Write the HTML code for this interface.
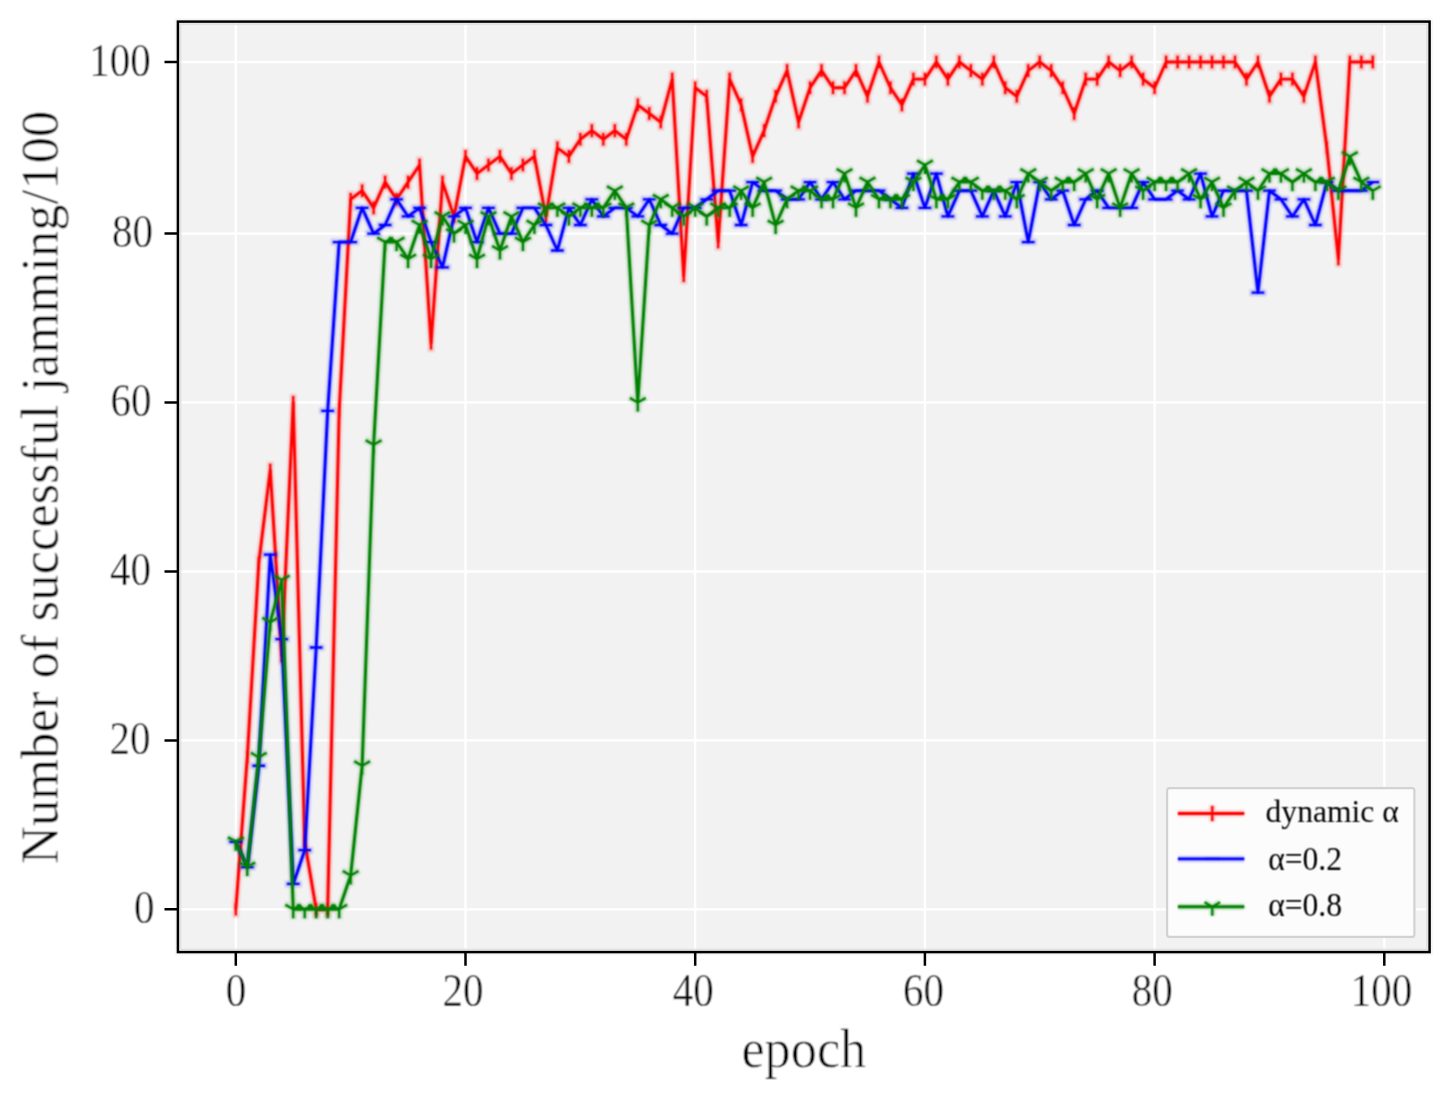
<!DOCTYPE html>
<html><head><meta charset="utf-8"><style>
html,body{margin:0;padding:0;background:#fff;overflow:hidden}
svg{display:block}
text{font-family:"Liberation Serif",serif;font-kerning:none}
</style></head><body>
<svg width="1451" height="1102" viewBox="0 0 1451 1102">
<defs><filter id="bl" filterUnits="userSpaceOnUse" x="0" y="0" width="1451" height="1102"><feGaussianBlur stdDeviation="1.0"/></filter><filter id="bt" filterUnits="userSpaceOnUse" x="0" y="0" width="1451" height="1102"><feConvolveMatrix order="3" kernelMatrix="1 2 1 2 4 2 1 2 1" divisor="16" preserveAlpha="false"/></filter><filter id="tx" filterUnits="userSpaceOnUse" x="0" y="0" width="1451" height="1102"><feConvolveMatrix order="3" kernelMatrix="1 2 1 2 4 2 1 2 1" divisor="16" preserveAlpha="false"/></filter></defs>
<rect width="1451" height="1102" fill="#fff"/>
<rect x="177.9" y="21.6" width="1251.7" height="930.5" fill="#f2f2f2"/>
<path d="M235.8 21.6V952.1M177.9 909.3H1429.6M465.5 21.6V952.1M177.9 740.4H1429.6M695.2 21.6V952.1M177.9 571.5H1429.6M924.9 21.6V952.1M177.9 402.4H1429.6M1154.6 21.6V952.1M177.9 233.6H1429.6M1384.3 21.6V952.1M177.9 62H1429.6" stroke="#fff" stroke-width="2.3" fill="none"/>
<g filter="url(#bl)" opacity="0.2"><path d="M235.8 909.3 L247.29 757.29 L258.77 563.04 L270.25 470.04 L281.74 655.95 L293.23 402.4 L304.71 841.74 L316.19 909.3 L327.68 909.3 L339.17 410.85 L350.65 199.28 L362.13 190.7 L373.62 207.86 L385.11 182.12 L396.59 199.28 L408.07 182.12 L419.56 164.96 L431.05 343.32 L442.53 182.12 L454.01 216.44 L465.5 156.38 L476.99 173.54 L488.47 164.96 L499.95 156.38 L511.44 173.54 L522.92 164.96 L534.41 156.38 L545.89 216.44 L557.38 147.8 L568.87 156.38 L580.35 139.22 L591.84 130.64 L603.32 139.22 L614.81 130.64 L626.29 139.22 L637.77 104.9 L649.26 113.48 L660.75 122.06 L672.23 79.16 L683.71 275.8 L695.2 87.74 L706.68 96.32 L718.17 242.04 L729.65 79.16 L741.14 104.9 L752.62 156.38 L764.11 130.64 L775.6 96.32 L787.08 70.58 L798.57 122.06 L810.05 87.74 L821.54 70.58 L833.02 87.74 L844.5 87.74 L855.99 70.58 L867.47 96.32 L878.96 62 L890.44 87.74 L901.93 104.9 L913.41 79.16 L924.9 79.16 L936.38 62 L947.87 79.16 L959.36 62 L970.84 70.58 L982.33 79.16 L993.81 62 L1005.3 87.74 L1016.78 96.32 L1028.26 70.58 L1039.75 62 L1051.23 70.58 L1062.72 87.74 L1074.2 113.48 L1085.69 79.16 L1097.17 79.16 L1108.66 62 L1120.14 70.58 L1131.63 62 L1143.12 79.16 L1154.6 87.74 L1166.09 62 L1177.57 62 L1189.06 62 L1200.54 62 L1212.02 62 L1223.51 62 L1234.99 62 L1246.48 79.16 L1257.96 62 L1269.45 96.32 L1280.93 79.16 L1292.42 79.16 L1303.9 96.32 L1315.39 62 L1326.88 147.8 L1338.36 258.92 L1349.84 62 L1361.33 62 L1372.81 62M235.8 900.9v16.8M247.29 748.89v16.8M258.77 554.64v16.8M270.25 461.64v16.8M281.74 647.55v16.8M293.23 394v16.8M304.71 833.34v16.8M316.19 900.9v16.8M327.68 900.9v16.8M339.17 402.45v16.8M350.65 190.88v16.8M362.13 182.3v16.8M373.62 199.46v16.8M385.11 173.72v16.8M396.59 190.88v16.8M408.07 173.72v16.8M419.56 156.56v16.8M431.05 334.92v16.8M442.53 173.72v16.8M454.01 208.04v16.8M465.5 147.98v16.8M476.99 165.14v16.8M488.47 156.56v16.8M499.95 147.98v16.8M511.44 165.14v16.8M522.92 156.56v16.8M534.41 147.98v16.8M545.89 208.04v16.8M557.38 139.4v16.8M568.87 147.98v16.8M580.35 130.82v16.8M591.84 122.24v16.8M603.32 130.82v16.8M614.81 122.24v16.8M626.29 130.82v16.8M637.77 96.5v16.8M649.26 105.08v16.8M660.75 113.66v16.8M672.23 70.76v16.8M683.71 267.4v16.8M695.2 79.34v16.8M706.68 87.92v16.8M718.17 233.64v16.8M729.65 70.76v16.8M741.14 96.5v16.8M752.62 147.98v16.8M764.11 122.24v16.8M775.6 87.92v16.8M787.08 62.18v16.8M798.57 113.66v16.8M810.05 79.34v16.8M821.54 62.18v16.8M833.02 79.34v16.8M844.5 79.34v16.8M855.99 62.18v16.8M867.47 87.92v16.8M878.96 53.6v16.8M890.44 79.34v16.8M901.93 96.5v16.8M913.41 70.76v16.8M924.9 70.76v16.8M936.38 53.6v16.8M947.87 70.76v16.8M959.36 53.6v16.8M970.84 62.18v16.8M982.33 70.76v16.8M993.81 53.6v16.8M1005.3 79.34v16.8M1016.78 87.92v16.8M1028.26 62.18v16.8M1039.75 53.6v16.8M1051.23 62.18v16.8M1062.72 79.34v16.8M1074.2 105.08v16.8M1085.69 70.76v16.8M1097.17 70.76v16.8M1108.66 53.6v16.8M1120.14 62.18v16.8M1131.63 53.6v16.8M1143.12 70.76v16.8M1154.6 79.34v16.8M1166.09 53.6v16.8M1177.57 53.6v16.8M1189.06 53.6v16.8M1200.54 53.6v16.8M1212.02 53.6v16.8M1223.51 53.6v16.8M1234.99 53.6v16.8M1246.48 70.76v16.8M1257.96 53.6v16.8M1269.45 87.92v16.8M1280.93 70.76v16.8M1292.42 70.76v16.8M1303.9 87.92v16.8M1315.39 53.6v16.8M1326.88 139.4v16.8M1338.36 250.52v16.8M1349.84 53.6v16.8M1361.33 53.6v16.8M1372.81 53.6v16.8" stroke="#f00" stroke-width="6.5" fill="none" stroke-linejoin="round"/></g>
<g filter="url(#bt)"><path d="M235.8 909.3 L247.29 757.29 L258.77 563.04 L270.25 470.04 L281.74 655.95 L293.23 402.4 L304.71 841.74 L316.19 909.3 L327.68 909.3 L339.17 410.85 L350.65 199.28 L362.13 190.7 L373.62 207.86 L385.11 182.12 L396.59 199.28 L408.07 182.12 L419.56 164.96 L431.05 343.32 L442.53 182.12 L454.01 216.44 L465.5 156.38 L476.99 173.54 L488.47 164.96 L499.95 156.38 L511.44 173.54 L522.92 164.96 L534.41 156.38 L545.89 216.44 L557.38 147.8 L568.87 156.38 L580.35 139.22 L591.84 130.64 L603.32 139.22 L614.81 130.64 L626.29 139.22 L637.77 104.9 L649.26 113.48 L660.75 122.06 L672.23 79.16 L683.71 275.8 L695.2 87.74 L706.68 96.32 L718.17 242.04 L729.65 79.16 L741.14 104.9 L752.62 156.38 L764.11 130.64 L775.6 96.32 L787.08 70.58 L798.57 122.06 L810.05 87.74 L821.54 70.58 L833.02 87.74 L844.5 87.74 L855.99 70.58 L867.47 96.32 L878.96 62 L890.44 87.74 L901.93 104.9 L913.41 79.16 L924.9 79.16 L936.38 62 L947.87 79.16 L959.36 62 L970.84 70.58 L982.33 79.16 L993.81 62 L1005.3 87.74 L1016.78 96.32 L1028.26 70.58 L1039.75 62 L1051.23 70.58 L1062.72 87.74 L1074.2 113.48 L1085.69 79.16 L1097.17 79.16 L1108.66 62 L1120.14 70.58 L1131.63 62 L1143.12 79.16 L1154.6 87.74 L1166.09 62 L1177.57 62 L1189.06 62 L1200.54 62 L1212.02 62 L1223.51 62 L1234.99 62 L1246.48 79.16 L1257.96 62 L1269.45 96.32 L1280.93 79.16 L1292.42 79.16 L1303.9 96.32 L1315.39 62 L1326.88 147.8 L1338.36 258.92 L1349.84 62 L1361.33 62 L1372.81 62" stroke="#f00" stroke-width="2.9" fill="none" stroke-linejoin="round" stroke-linecap="butt"/><path d="M235.8 903v12.6M247.29 750.99v12.6M258.77 556.75v12.6M270.25 463.74v12.6M281.74 649.65v12.6M293.23 396.1v12.6M304.71 835.44v12.6M316.19 903v12.6M327.68 903v12.6M339.17 404.55v12.6M350.65 192.98v12.6M362.13 184.4v12.6M373.62 201.56v12.6M385.11 175.82v12.6M396.59 192.98v12.6M408.07 175.82v12.6M419.56 158.66v12.6M431.05 337.02v12.6M442.53 175.82v12.6M454.01 210.14v12.6M465.5 150.08v12.6M476.99 167.24v12.6M488.47 158.66v12.6M499.95 150.08v12.6M511.44 167.24v12.6M522.92 158.66v12.6M534.41 150.08v12.6M545.89 210.14v12.6M557.38 141.5v12.6M568.87 150.08v12.6M580.35 132.92v12.6M591.84 124.34v12.6M603.32 132.92v12.6M614.81 124.34v12.6M626.29 132.92v12.6M637.77 98.6v12.6M649.26 107.18v12.6M660.75 115.76v12.6M672.23 72.86v12.6M683.71 269.5v12.6M695.2 81.44v12.6M706.68 90.02v12.6M718.17 235.74v12.6M729.65 72.86v12.6M741.14 98.6v12.6M752.62 150.08v12.6M764.11 124.34v12.6M775.6 90.02v12.6M787.08 64.28v12.6M798.57 115.76v12.6M810.05 81.44v12.6M821.54 64.28v12.6M833.02 81.44v12.6M844.5 81.44v12.6M855.99 64.28v12.6M867.47 90.02v12.6M878.96 55.7v12.6M890.44 81.44v12.6M901.93 98.6v12.6M913.41 72.86v12.6M924.9 72.86v12.6M936.38 55.7v12.6M947.87 72.86v12.6M959.36 55.7v12.6M970.84 64.28v12.6M982.33 72.86v12.6M993.81 55.7v12.6M1005.3 81.44v12.6M1016.78 90.02v12.6M1028.26 64.28v12.6M1039.75 55.7v12.6M1051.23 64.28v12.6M1062.72 81.44v12.6M1074.2 107.18v12.6M1085.69 72.86v12.6M1097.17 72.86v12.6M1108.66 55.7v12.6M1120.14 64.28v12.6M1131.63 55.7v12.6M1143.12 72.86v12.6M1154.6 81.44v12.6M1166.09 55.7v12.6M1177.57 55.7v12.6M1189.06 55.7v12.6M1200.54 55.7v12.6M1212.02 55.7v12.6M1223.51 55.7v12.6M1234.99 55.7v12.6M1246.48 72.86v12.6M1257.96 55.7v12.6M1269.45 90.02v12.6M1280.93 72.86v12.6M1292.42 72.86v12.6M1303.9 90.02v12.6M1315.39 55.7v12.6M1326.88 141.5v12.6M1338.36 252.62v12.6M1349.84 55.7v12.6M1361.33 55.7v12.6M1372.81 55.7v12.6" stroke="#f00" stroke-width="2.3" fill="none" stroke-linecap="butt"/></g>
<g filter="url(#bl)" opacity="0.2"><path d="M235.8 841.74 L247.29 867.07 L258.77 765.73 L270.25 554.59 L281.74 639.06 L293.23 883.96 L304.71 850.18 L316.19 647.5 L327.68 410.85 L339.17 242.04 L350.65 242.04 L362.13 207.86 L373.62 233.6 L385.11 225.02 L396.59 199.28 L408.07 216.44 L419.56 207.86 L431.05 242.04 L442.53 267.36 L454.01 216.44 L465.5 207.86 L476.99 242.04 L488.47 207.86 L499.95 233.6 L511.44 233.6 L522.92 207.86 L534.41 207.86 L545.89 225.02 L557.38 250.48 L568.87 207.86 L580.35 225.02 L591.84 199.28 L603.32 216.44 L614.81 207.86 L626.29 207.86 L637.77 216.44 L649.26 199.28 L660.75 225.02 L672.23 233.6 L683.71 207.86 L695.2 207.86 L706.68 199.28 L718.17 190.7 L729.65 190.7 L741.14 225.02 L752.62 182.12 L764.11 190.7 L775.6 190.7 L787.08 199.28 L798.57 199.28 L810.05 182.12 L821.54 199.28 L833.02 182.12 L844.5 199.28 L855.99 190.7 L867.47 190.7 L878.96 190.7 L890.44 199.28 L901.93 207.86 L913.41 173.54 L924.9 207.86 L936.38 173.54 L947.87 216.44 L959.36 190.7 L970.84 190.7 L982.33 216.44 L993.81 190.7 L1005.3 216.44 L1016.78 182.12 L1028.26 242.04 L1039.75 182.12 L1051.23 199.28 L1062.72 190.7 L1074.2 225.02 L1085.69 199.28 L1097.17 190.7 L1108.66 207.86 L1120.14 207.86 L1131.63 207.86 L1143.12 182.12 L1154.6 199.28 L1166.09 199.28 L1177.57 190.7 L1189.06 199.28 L1200.54 173.54 L1212.02 216.44 L1223.51 190.7 L1234.99 190.7 L1246.48 190.7 L1257.96 292.68 L1269.45 190.7 L1280.93 199.28 L1292.42 216.44 L1303.9 199.28 L1315.39 225.02 L1326.88 182.12 L1338.36 190.7 L1349.84 190.7 L1361.33 190.7 L1372.81 182.12M227.4 841.74h16.8M238.89 867.07h16.8M250.37 765.73h16.8M261.86 554.59h16.8M273.34 639.06h16.8M284.83 883.96h16.8M296.31 850.18h16.8M307.8 647.5h16.8M319.28 410.85h16.8M330.77 242.04h16.8M342.25 242.04h16.8M353.74 207.86h16.8M365.22 233.6h16.8M376.71 225.02h16.8M388.19 199.28h16.8M399.68 216.44h16.8M411.16 207.86h16.8M422.65 242.04h16.8M434.13 267.36h16.8M445.62 216.44h16.8M457.1 207.86h16.8M468.59 242.04h16.8M480.07 207.86h16.8M491.56 233.6h16.8M503.04 233.6h16.8M514.52 207.86h16.8M526.01 207.86h16.8M537.5 225.02h16.8M548.98 250.48h16.8M560.47 207.86h16.8M571.95 225.02h16.8M583.44 199.28h16.8M594.92 216.44h16.8M606.41 207.86h16.8M617.89 207.86h16.8M629.38 216.44h16.8M640.86 199.28h16.8M652.35 225.02h16.8M663.83 233.6h16.8M675.31 207.86h16.8M686.8 207.86h16.8M698.28 199.28h16.8M709.77 190.7h16.8M721.25 190.7h16.8M732.74 225.02h16.8M744.23 182.12h16.8M755.71 190.7h16.8M767.2 190.7h16.8M778.68 199.28h16.8M790.17 199.28h16.8M801.65 182.12h16.8M813.14 199.28h16.8M824.62 182.12h16.8M836.1 199.28h16.8M847.59 190.7h16.8M859.07 190.7h16.8M870.56 190.7h16.8M882.04 199.28h16.8M893.53 207.86h16.8M905.01 173.54h16.8M916.5 207.86h16.8M927.99 173.54h16.8M939.47 216.44h16.8M950.96 190.7h16.8M962.44 190.7h16.8M973.93 216.44h16.8M985.41 190.7h16.8M996.9 216.44h16.8M1008.38 182.12h16.8M1019.86 242.04h16.8M1031.35 182.12h16.8M1042.83 199.28h16.8M1054.32 190.7h16.8M1065.8 225.02h16.8M1077.29 199.28h16.8M1088.77 190.7h16.8M1100.26 207.86h16.8M1111.74 207.86h16.8M1123.23 207.86h16.8M1134.71 182.12h16.8M1146.2 199.28h16.8M1157.68 199.28h16.8M1169.17 190.7h16.8M1180.65 199.28h16.8M1192.14 173.54h16.8M1203.62 216.44h16.8M1215.11 190.7h16.8M1226.59 190.7h16.8M1238.08 190.7h16.8M1249.56 292.68h16.8M1261.05 190.7h16.8M1272.53 199.28h16.8M1284.02 216.44h16.8M1295.5 199.28h16.8M1306.99 225.02h16.8M1318.47 182.12h16.8M1329.96 190.7h16.8M1341.44 190.7h16.8M1352.93 190.7h16.8M1364.41 182.12h16.8" stroke="#00f" stroke-width="6.5" fill="none" stroke-linejoin="round"/></g>
<g filter="url(#bt)"><path d="M235.8 841.74 L247.29 867.07 L258.77 765.73 L270.25 554.59 L281.74 639.06 L293.23 883.96 L304.71 850.18 L316.19 647.5 L327.68 410.85 L339.17 242.04 L350.65 242.04 L362.13 207.86 L373.62 233.6 L385.11 225.02 L396.59 199.28 L408.07 216.44 L419.56 207.86 L431.05 242.04 L442.53 267.36 L454.01 216.44 L465.5 207.86 L476.99 242.04 L488.47 207.86 L499.95 233.6 L511.44 233.6 L522.92 207.86 L534.41 207.86 L545.89 225.02 L557.38 250.48 L568.87 207.86 L580.35 225.02 L591.84 199.28 L603.32 216.44 L614.81 207.86 L626.29 207.86 L637.77 216.44 L649.26 199.28 L660.75 225.02 L672.23 233.6 L683.71 207.86 L695.2 207.86 L706.68 199.28 L718.17 190.7 L729.65 190.7 L741.14 225.02 L752.62 182.12 L764.11 190.7 L775.6 190.7 L787.08 199.28 L798.57 199.28 L810.05 182.12 L821.54 199.28 L833.02 182.12 L844.5 199.28 L855.99 190.7 L867.47 190.7 L878.96 190.7 L890.44 199.28 L901.93 207.86 L913.41 173.54 L924.9 207.86 L936.38 173.54 L947.87 216.44 L959.36 190.7 L970.84 190.7 L982.33 216.44 L993.81 190.7 L1005.3 216.44 L1016.78 182.12 L1028.26 242.04 L1039.75 182.12 L1051.23 199.28 L1062.72 190.7 L1074.2 225.02 L1085.69 199.28 L1097.17 190.7 L1108.66 207.86 L1120.14 207.86 L1131.63 207.86 L1143.12 182.12 L1154.6 199.28 L1166.09 199.28 L1177.57 190.7 L1189.06 199.28 L1200.54 173.54 L1212.02 216.44 L1223.51 190.7 L1234.99 190.7 L1246.48 190.7 L1257.96 292.68 L1269.45 190.7 L1280.93 199.28 L1292.42 216.44 L1303.9 199.28 L1315.39 225.02 L1326.88 182.12 L1338.36 190.7 L1349.84 190.7 L1361.33 190.7 L1372.81 182.12" stroke="#00f" stroke-width="2.9" fill="none" stroke-linejoin="round" stroke-linecap="butt"/><path d="M229.5 841.74h12.6M240.99 867.07h12.6M252.47 765.73h12.6M263.95 554.59h12.6M275.44 639.06h12.6M286.93 883.96h12.6M298.41 850.18h12.6M309.89 647.5h12.6M321.38 410.85h12.6M332.87 242.04h12.6M344.35 242.04h12.6M355.83 207.86h12.6M367.32 233.6h12.6M378.81 225.02h12.6M390.29 199.28h12.6M401.77 216.44h12.6M413.26 207.86h12.6M424.75 242.04h12.6M436.23 267.36h12.6M447.71 216.44h12.6M459.2 207.86h12.6M470.69 242.04h12.6M482.17 207.86h12.6M493.65 233.6h12.6M505.14 233.6h12.6M516.62 207.86h12.6M528.11 207.86h12.6M539.6 225.02h12.6M551.08 250.48h12.6M562.57 207.86h12.6M574.05 225.02h12.6M585.54 199.28h12.6M597.02 216.44h12.6M608.51 207.86h12.6M619.99 207.86h12.6M631.48 216.44h12.6M642.96 199.28h12.6M654.45 225.02h12.6M665.93 233.6h12.6M677.41 207.86h12.6M688.9 207.86h12.6M700.38 199.28h12.6M711.87 190.7h12.6M723.36 190.7h12.6M734.84 225.02h12.6M746.33 182.12h12.6M757.81 190.7h12.6M769.3 190.7h12.6M780.78 199.28h12.6M792.27 199.28h12.6M803.75 182.12h12.6M815.24 199.28h12.6M826.72 182.12h12.6M838.2 199.28h12.6M849.69 190.7h12.6M861.17 190.7h12.6M872.66 190.7h12.6M884.14 199.28h12.6M895.63 207.86h12.6M907.12 173.54h12.6M918.6 207.86h12.6M930.09 173.54h12.6M941.57 216.44h12.6M953.06 190.7h12.6M964.54 190.7h12.6M976.03 216.44h12.6M987.51 190.7h12.6M999 216.44h12.6M1010.48 182.12h12.6M1021.96 242.04h12.6M1033.45 182.12h12.6M1044.93 199.28h12.6M1056.42 190.7h12.6M1067.9 225.02h12.6M1079.39 199.28h12.6M1090.88 190.7h12.6M1102.36 207.86h12.6M1113.85 207.86h12.6M1125.33 207.86h12.6M1136.82 182.12h12.6M1148.3 199.28h12.6M1159.79 199.28h12.6M1171.27 190.7h12.6M1182.76 199.28h12.6M1194.24 173.54h12.6M1205.72 216.44h12.6M1217.21 190.7h12.6M1228.69 190.7h12.6M1240.18 190.7h12.6M1251.66 292.68h12.6M1263.15 190.7h12.6M1274.63 199.28h12.6M1286.12 216.44h12.6M1297.61 199.28h12.6M1309.09 225.02h12.6M1320.58 182.12h12.6M1332.06 190.7h12.6M1343.54 190.7h12.6M1355.03 190.7h12.6M1366.51 182.12h12.6" stroke="#00f" stroke-width="2.3" fill="none" stroke-linecap="butt"/></g>
<g filter="url(#bl)" opacity="0.2"><path d="M235.8 841.74 L247.29 867.07 L258.77 757.29 L270.25 622.17 L281.74 579.94 L293.23 909.3 L304.71 909.3 L316.19 909.3 L327.68 909.3 L339.17 909.3 L350.65 875.52 L362.13 765.73 L373.62 444.67 L385.11 242.04 L396.59 242.04 L408.07 258.92 L419.56 225.02 L431.05 258.92 L442.53 216.44 L454.01 233.6 L465.5 225.02 L476.99 258.92 L488.47 216.44 L499.95 250.48 L511.44 216.44 L522.92 242.04 L534.41 225.02 L545.89 207.86 L557.38 207.86 L568.87 216.44 L580.35 207.86 L591.84 207.86 L603.32 207.86 L614.81 190.7 L626.29 207.86 L637.77 402.4 L649.26 225.02 L660.75 199.28 L672.23 207.86 L683.71 216.44 L695.2 207.86 L706.68 216.44 L718.17 207.86 L729.65 207.86 L741.14 190.7 L752.62 207.86 L764.11 182.12 L775.6 225.02 L787.08 199.28 L798.57 190.7 L810.05 190.7 L821.54 199.28 L833.02 199.28 L844.5 173.54 L855.99 207.86 L867.47 182.12 L878.96 199.28 L890.44 199.28 L901.93 199.28 L913.41 182.12 L924.9 164.96 L936.38 199.28 L947.87 199.28 L959.36 182.12 L970.84 182.12 L982.33 190.7 L993.81 190.7 L1005.3 190.7 L1016.78 199.28 L1028.26 173.54 L1039.75 182.12 L1051.23 190.7 L1062.72 182.12 L1074.2 182.12 L1085.69 173.54 L1097.17 199.28 L1108.66 173.54 L1120.14 207.86 L1131.63 173.54 L1143.12 190.7 L1154.6 182.12 L1166.09 182.12 L1177.57 182.12 L1189.06 173.54 L1200.54 199.28 L1212.02 182.12 L1223.51 207.86 L1234.99 190.7 L1246.48 182.12 L1257.96 190.7 L1269.45 173.54 L1280.93 173.54 L1292.42 182.12 L1303.9 173.54 L1315.39 182.12 L1326.88 182.12 L1338.36 190.7 L1349.84 156.38 L1361.33 182.12 L1372.81 190.7M235.8 841.74v10M235.8 841.74l-8.66 -5M235.8 841.74l8.66 -5M247.29 867.07v10M247.29 867.07l-8.66 -5M247.29 867.07l8.66 -5M258.77 757.29v10M258.77 757.29l-8.66 -5M258.77 757.29l8.66 -5M270.25 622.17v10M270.25 622.17l-8.66 -5M270.25 622.17l8.66 -5M281.74 579.94v10M281.74 579.94l-8.66 -5M281.74 579.94l8.66 -5M293.23 909.3v10M293.23 909.3l-8.66 -5M293.23 909.3l8.66 -5M304.71 909.3v10M304.71 909.3l-8.66 -5M304.71 909.3l8.66 -5M316.19 909.3v10M316.19 909.3l-8.66 -5M316.19 909.3l8.66 -5M327.68 909.3v10M327.68 909.3l-8.66 -5M327.68 909.3l8.66 -5M339.17 909.3v10M339.17 909.3l-8.66 -5M339.17 909.3l8.66 -5M350.65 875.52v10M350.65 875.52l-8.66 -5M350.65 875.52l8.66 -5M362.13 765.73v10M362.13 765.73l-8.66 -5M362.13 765.73l8.66 -5M373.62 444.67v10M373.62 444.67l-8.66 -5M373.62 444.67l8.66 -5M385.11 242.04v10M385.11 242.04l-8.66 -5M385.11 242.04l8.66 -5M396.59 242.04v10M396.59 242.04l-8.66 -5M396.59 242.04l8.66 -5M408.07 258.92v10M408.07 258.92l-8.66 -5M408.07 258.92l8.66 -5M419.56 225.02v10M419.56 225.02l-8.66 -5M419.56 225.02l8.66 -5M431.05 258.92v10M431.05 258.92l-8.66 -5M431.05 258.92l8.66 -5M442.53 216.44v10M442.53 216.44l-8.66 -5M442.53 216.44l8.66 -5M454.01 233.6v10M454.01 233.6l-8.66 -5M454.01 233.6l8.66 -5M465.5 225.02v10M465.5 225.02l-8.66 -5M465.5 225.02l8.66 -5M476.99 258.92v10M476.99 258.92l-8.66 -5M476.99 258.92l8.66 -5M488.47 216.44v10M488.47 216.44l-8.66 -5M488.47 216.44l8.66 -5M499.95 250.48v10M499.95 250.48l-8.66 -5M499.95 250.48l8.66 -5M511.44 216.44v10M511.44 216.44l-8.66 -5M511.44 216.44l8.66 -5M522.92 242.04v10M522.92 242.04l-8.66 -5M522.92 242.04l8.66 -5M534.41 225.02v10M534.41 225.02l-8.66 -5M534.41 225.02l8.66 -5M545.89 207.86v10M545.89 207.86l-8.66 -5M545.89 207.86l8.66 -5M557.38 207.86v10M557.38 207.86l-8.66 -5M557.38 207.86l8.66 -5M568.87 216.44v10M568.87 216.44l-8.66 -5M568.87 216.44l8.66 -5M580.35 207.86v10M580.35 207.86l-8.66 -5M580.35 207.86l8.66 -5M591.84 207.86v10M591.84 207.86l-8.66 -5M591.84 207.86l8.66 -5M603.32 207.86v10M603.32 207.86l-8.66 -5M603.32 207.86l8.66 -5M614.81 190.7v10M614.81 190.7l-8.66 -5M614.81 190.7l8.66 -5M626.29 207.86v10M626.29 207.86l-8.66 -5M626.29 207.86l8.66 -5M637.77 402.4v10M637.77 402.4l-8.66 -5M637.77 402.4l8.66 -5M649.26 225.02v10M649.26 225.02l-8.66 -5M649.26 225.02l8.66 -5M660.75 199.28v10M660.75 199.28l-8.66 -5M660.75 199.28l8.66 -5M672.23 207.86v10M672.23 207.86l-8.66 -5M672.23 207.86l8.66 -5M683.71 216.44v10M683.71 216.44l-8.66 -5M683.71 216.44l8.66 -5M695.2 207.86v10M695.2 207.86l-8.66 -5M695.2 207.86l8.66 -5M706.68 216.44v10M706.68 216.44l-8.66 -5M706.68 216.44l8.66 -5M718.17 207.86v10M718.17 207.86l-8.66 -5M718.17 207.86l8.66 -5M729.65 207.86v10M729.65 207.86l-8.66 -5M729.65 207.86l8.66 -5M741.14 190.7v10M741.14 190.7l-8.66 -5M741.14 190.7l8.66 -5M752.62 207.86v10M752.62 207.86l-8.66 -5M752.62 207.86l8.66 -5M764.11 182.12v10M764.11 182.12l-8.66 -5M764.11 182.12l8.66 -5M775.6 225.02v10M775.6 225.02l-8.66 -5M775.6 225.02l8.66 -5M787.08 199.28v10M787.08 199.28l-8.66 -5M787.08 199.28l8.66 -5M798.57 190.7v10M798.57 190.7l-8.66 -5M798.57 190.7l8.66 -5M810.05 190.7v10M810.05 190.7l-8.66 -5M810.05 190.7l8.66 -5M821.54 199.28v10M821.54 199.28l-8.66 -5M821.54 199.28l8.66 -5M833.02 199.28v10M833.02 199.28l-8.66 -5M833.02 199.28l8.66 -5M844.5 173.54v10M844.5 173.54l-8.66 -5M844.5 173.54l8.66 -5M855.99 207.86v10M855.99 207.86l-8.66 -5M855.99 207.86l8.66 -5M867.47 182.12v10M867.47 182.12l-8.66 -5M867.47 182.12l8.66 -5M878.96 199.28v10M878.96 199.28l-8.66 -5M878.96 199.28l8.66 -5M890.44 199.28v10M890.44 199.28l-8.66 -5M890.44 199.28l8.66 -5M901.93 199.28v10M901.93 199.28l-8.66 -5M901.93 199.28l8.66 -5M913.41 182.12v10M913.41 182.12l-8.66 -5M913.41 182.12l8.66 -5M924.9 164.96v10M924.9 164.96l-8.66 -5M924.9 164.96l8.66 -5M936.38 199.28v10M936.38 199.28l-8.66 -5M936.38 199.28l8.66 -5M947.87 199.28v10M947.87 199.28l-8.66 -5M947.87 199.28l8.66 -5M959.36 182.12v10M959.36 182.12l-8.66 -5M959.36 182.12l8.66 -5M970.84 182.12v10M970.84 182.12l-8.66 -5M970.84 182.12l8.66 -5M982.33 190.7v10M982.33 190.7l-8.66 -5M982.33 190.7l8.66 -5M993.81 190.7v10M993.81 190.7l-8.66 -5M993.81 190.7l8.66 -5M1005.3 190.7v10M1005.3 190.7l-8.66 -5M1005.3 190.7l8.66 -5M1016.78 199.28v10M1016.78 199.28l-8.66 -5M1016.78 199.28l8.66 -5M1028.26 173.54v10M1028.26 173.54l-8.66 -5M1028.26 173.54l8.66 -5M1039.75 182.12v10M1039.75 182.12l-8.66 -5M1039.75 182.12l8.66 -5M1051.23 190.7v10M1051.23 190.7l-8.66 -5M1051.23 190.7l8.66 -5M1062.72 182.12v10M1062.72 182.12l-8.66 -5M1062.72 182.12l8.66 -5M1074.2 182.12v10M1074.2 182.12l-8.66 -5M1074.2 182.12l8.66 -5M1085.69 173.54v10M1085.69 173.54l-8.66 -5M1085.69 173.54l8.66 -5M1097.17 199.28v10M1097.17 199.28l-8.66 -5M1097.17 199.28l8.66 -5M1108.66 173.54v10M1108.66 173.54l-8.66 -5M1108.66 173.54l8.66 -5M1120.14 207.86v10M1120.14 207.86l-8.66 -5M1120.14 207.86l8.66 -5M1131.63 173.54v10M1131.63 173.54l-8.66 -5M1131.63 173.54l8.66 -5M1143.12 190.7v10M1143.12 190.7l-8.66 -5M1143.12 190.7l8.66 -5M1154.6 182.12v10M1154.6 182.12l-8.66 -5M1154.6 182.12l8.66 -5M1166.09 182.12v10M1166.09 182.12l-8.66 -5M1166.09 182.12l8.66 -5M1177.57 182.12v10M1177.57 182.12l-8.66 -5M1177.57 182.12l8.66 -5M1189.06 173.54v10M1189.06 173.54l-8.66 -5M1189.06 173.54l8.66 -5M1200.54 199.28v10M1200.54 199.28l-8.66 -5M1200.54 199.28l8.66 -5M1212.02 182.12v10M1212.02 182.12l-8.66 -5M1212.02 182.12l8.66 -5M1223.51 207.86v10M1223.51 207.86l-8.66 -5M1223.51 207.86l8.66 -5M1234.99 190.7v10M1234.99 190.7l-8.66 -5M1234.99 190.7l8.66 -5M1246.48 182.12v10M1246.48 182.12l-8.66 -5M1246.48 182.12l8.66 -5M1257.96 190.7v10M1257.96 190.7l-8.66 -5M1257.96 190.7l8.66 -5M1269.45 173.54v10M1269.45 173.54l-8.66 -5M1269.45 173.54l8.66 -5M1280.93 173.54v10M1280.93 173.54l-8.66 -5M1280.93 173.54l8.66 -5M1292.42 182.12v10M1292.42 182.12l-8.66 -5M1292.42 182.12l8.66 -5M1303.9 173.54v10M1303.9 173.54l-8.66 -5M1303.9 173.54l8.66 -5M1315.39 182.12v10M1315.39 182.12l-8.66 -5M1315.39 182.12l8.66 -5M1326.88 182.12v10M1326.88 182.12l-8.66 -5M1326.88 182.12l8.66 -5M1338.36 190.7v10M1338.36 190.7l-8.66 -5M1338.36 190.7l8.66 -5M1349.84 156.38v10M1349.84 156.38l-8.66 -5M1349.84 156.38l8.66 -5M1361.33 182.12v10M1361.33 182.12l-8.66 -5M1361.33 182.12l8.66 -5M1372.81 190.7v10M1372.81 190.7l-8.66 -5M1372.81 190.7l8.66 -5" stroke="#008000" stroke-width="6.5" fill="none" stroke-linejoin="round"/></g>
<g filter="url(#bt)"><path d="M235.8 841.74 L247.29 867.07 L258.77 757.29 L270.25 622.17 L281.74 579.94 L293.23 909.3 L304.71 909.3 L316.19 909.3 L327.68 909.3 L339.17 909.3 L350.65 875.52 L362.13 765.73 L373.62 444.67 L385.11 242.04 L396.59 242.04 L408.07 258.92 L419.56 225.02 L431.05 258.92 L442.53 216.44 L454.01 233.6 L465.5 225.02 L476.99 258.92 L488.47 216.44 L499.95 250.48 L511.44 216.44 L522.92 242.04 L534.41 225.02 L545.89 207.86 L557.38 207.86 L568.87 216.44 L580.35 207.86 L591.84 207.86 L603.32 207.86 L614.81 190.7 L626.29 207.86 L637.77 402.4 L649.26 225.02 L660.75 199.28 L672.23 207.86 L683.71 216.44 L695.2 207.86 L706.68 216.44 L718.17 207.86 L729.65 207.86 L741.14 190.7 L752.62 207.86 L764.11 182.12 L775.6 225.02 L787.08 199.28 L798.57 190.7 L810.05 190.7 L821.54 199.28 L833.02 199.28 L844.5 173.54 L855.99 207.86 L867.47 182.12 L878.96 199.28 L890.44 199.28 L901.93 199.28 L913.41 182.12 L924.9 164.96 L936.38 199.28 L947.87 199.28 L959.36 182.12 L970.84 182.12 L982.33 190.7 L993.81 190.7 L1005.3 190.7 L1016.78 199.28 L1028.26 173.54 L1039.75 182.12 L1051.23 190.7 L1062.72 182.12 L1074.2 182.12 L1085.69 173.54 L1097.17 199.28 L1108.66 173.54 L1120.14 207.86 L1131.63 173.54 L1143.12 190.7 L1154.6 182.12 L1166.09 182.12 L1177.57 182.12 L1189.06 173.54 L1200.54 199.28 L1212.02 182.12 L1223.51 207.86 L1234.99 190.7 L1246.48 182.12 L1257.96 190.7 L1269.45 173.54 L1280.93 173.54 L1292.42 182.12 L1303.9 173.54 L1315.39 182.12 L1326.88 182.12 L1338.36 190.7 L1349.84 156.38 L1361.33 182.12 L1372.81 190.7" stroke="#008000" stroke-width="2.9" fill="none" stroke-linejoin="round" stroke-linecap="butt"/><path d="M235.8 841.74v9M235.8 841.74l-7.79 -4.5M235.8 841.74l7.79 -4.5M247.29 867.07v9M247.29 867.07l-7.79 -4.5M247.29 867.07l7.79 -4.5M258.77 757.29v9M258.77 757.29l-7.79 -4.5M258.77 757.29l7.79 -4.5M270.25 622.17v9M270.25 622.17l-7.79 -4.5M270.25 622.17l7.79 -4.5M281.74 579.94v9M281.74 579.94l-7.79 -4.5M281.74 579.94l7.79 -4.5M293.23 909.3v9M293.23 909.3l-7.79 -4.5M293.23 909.3l7.79 -4.5M304.71 909.3v9M304.71 909.3l-7.79 -4.5M304.71 909.3l7.79 -4.5M316.19 909.3v9M316.19 909.3l-7.79 -4.5M316.19 909.3l7.79 -4.5M327.68 909.3v9M327.68 909.3l-7.79 -4.5M327.68 909.3l7.79 -4.5M339.17 909.3v9M339.17 909.3l-7.79 -4.5M339.17 909.3l7.79 -4.5M350.65 875.52v9M350.65 875.52l-7.79 -4.5M350.65 875.52l7.79 -4.5M362.13 765.73v9M362.13 765.73l-7.79 -4.5M362.13 765.73l7.79 -4.5M373.62 444.67v9M373.62 444.67l-7.79 -4.5M373.62 444.67l7.79 -4.5M385.11 242.04v9M385.11 242.04l-7.79 -4.5M385.11 242.04l7.79 -4.5M396.59 242.04v9M396.59 242.04l-7.79 -4.5M396.59 242.04l7.79 -4.5M408.07 258.92v9M408.07 258.92l-7.79 -4.5M408.07 258.92l7.79 -4.5M419.56 225.02v9M419.56 225.02l-7.79 -4.5M419.56 225.02l7.79 -4.5M431.05 258.92v9M431.05 258.92l-7.79 -4.5M431.05 258.92l7.79 -4.5M442.53 216.44v9M442.53 216.44l-7.79 -4.5M442.53 216.44l7.79 -4.5M454.01 233.6v9M454.01 233.6l-7.79 -4.5M454.01 233.6l7.79 -4.5M465.5 225.02v9M465.5 225.02l-7.79 -4.5M465.5 225.02l7.79 -4.5M476.99 258.92v9M476.99 258.92l-7.79 -4.5M476.99 258.92l7.79 -4.5M488.47 216.44v9M488.47 216.44l-7.79 -4.5M488.47 216.44l7.79 -4.5M499.95 250.48v9M499.95 250.48l-7.79 -4.5M499.95 250.48l7.79 -4.5M511.44 216.44v9M511.44 216.44l-7.79 -4.5M511.44 216.44l7.79 -4.5M522.92 242.04v9M522.92 242.04l-7.79 -4.5M522.92 242.04l7.79 -4.5M534.41 225.02v9M534.41 225.02l-7.79 -4.5M534.41 225.02l7.79 -4.5M545.89 207.86v9M545.89 207.86l-7.79 -4.5M545.89 207.86l7.79 -4.5M557.38 207.86v9M557.38 207.86l-7.79 -4.5M557.38 207.86l7.79 -4.5M568.87 216.44v9M568.87 216.44l-7.79 -4.5M568.87 216.44l7.79 -4.5M580.35 207.86v9M580.35 207.86l-7.79 -4.5M580.35 207.86l7.79 -4.5M591.84 207.86v9M591.84 207.86l-7.79 -4.5M591.84 207.86l7.79 -4.5M603.32 207.86v9M603.32 207.86l-7.79 -4.5M603.32 207.86l7.79 -4.5M614.81 190.7v9M614.81 190.7l-7.79 -4.5M614.81 190.7l7.79 -4.5M626.29 207.86v9M626.29 207.86l-7.79 -4.5M626.29 207.86l7.79 -4.5M637.77 402.4v9M637.77 402.4l-7.79 -4.5M637.77 402.4l7.79 -4.5M649.26 225.02v9M649.26 225.02l-7.79 -4.5M649.26 225.02l7.79 -4.5M660.75 199.28v9M660.75 199.28l-7.79 -4.5M660.75 199.28l7.79 -4.5M672.23 207.86v9M672.23 207.86l-7.79 -4.5M672.23 207.86l7.79 -4.5M683.71 216.44v9M683.71 216.44l-7.79 -4.5M683.71 216.44l7.79 -4.5M695.2 207.86v9M695.2 207.86l-7.79 -4.5M695.2 207.86l7.79 -4.5M706.68 216.44v9M706.68 216.44l-7.79 -4.5M706.68 216.44l7.79 -4.5M718.17 207.86v9M718.17 207.86l-7.79 -4.5M718.17 207.86l7.79 -4.5M729.65 207.86v9M729.65 207.86l-7.79 -4.5M729.65 207.86l7.79 -4.5M741.14 190.7v9M741.14 190.7l-7.79 -4.5M741.14 190.7l7.79 -4.5M752.62 207.86v9M752.62 207.86l-7.79 -4.5M752.62 207.86l7.79 -4.5M764.11 182.12v9M764.11 182.12l-7.79 -4.5M764.11 182.12l7.79 -4.5M775.6 225.02v9M775.6 225.02l-7.79 -4.5M775.6 225.02l7.79 -4.5M787.08 199.28v9M787.08 199.28l-7.79 -4.5M787.08 199.28l7.79 -4.5M798.57 190.7v9M798.57 190.7l-7.79 -4.5M798.57 190.7l7.79 -4.5M810.05 190.7v9M810.05 190.7l-7.79 -4.5M810.05 190.7l7.79 -4.5M821.54 199.28v9M821.54 199.28l-7.79 -4.5M821.54 199.28l7.79 -4.5M833.02 199.28v9M833.02 199.28l-7.79 -4.5M833.02 199.28l7.79 -4.5M844.5 173.54v9M844.5 173.54l-7.79 -4.5M844.5 173.54l7.79 -4.5M855.99 207.86v9M855.99 207.86l-7.79 -4.5M855.99 207.86l7.79 -4.5M867.47 182.12v9M867.47 182.12l-7.79 -4.5M867.47 182.12l7.79 -4.5M878.96 199.28v9M878.96 199.28l-7.79 -4.5M878.96 199.28l7.79 -4.5M890.44 199.28v9M890.44 199.28l-7.79 -4.5M890.44 199.28l7.79 -4.5M901.93 199.28v9M901.93 199.28l-7.79 -4.5M901.93 199.28l7.79 -4.5M913.41 182.12v9M913.41 182.12l-7.79 -4.5M913.41 182.12l7.79 -4.5M924.9 164.96v9M924.9 164.96l-7.79 -4.5M924.9 164.96l7.79 -4.5M936.38 199.28v9M936.38 199.28l-7.79 -4.5M936.38 199.28l7.79 -4.5M947.87 199.28v9M947.87 199.28l-7.79 -4.5M947.87 199.28l7.79 -4.5M959.36 182.12v9M959.36 182.12l-7.79 -4.5M959.36 182.12l7.79 -4.5M970.84 182.12v9M970.84 182.12l-7.79 -4.5M970.84 182.12l7.79 -4.5M982.33 190.7v9M982.33 190.7l-7.79 -4.5M982.33 190.7l7.79 -4.5M993.81 190.7v9M993.81 190.7l-7.79 -4.5M993.81 190.7l7.79 -4.5M1005.3 190.7v9M1005.3 190.7l-7.79 -4.5M1005.3 190.7l7.79 -4.5M1016.78 199.28v9M1016.78 199.28l-7.79 -4.5M1016.78 199.28l7.79 -4.5M1028.26 173.54v9M1028.26 173.54l-7.79 -4.5M1028.26 173.54l7.79 -4.5M1039.75 182.12v9M1039.75 182.12l-7.79 -4.5M1039.75 182.12l7.79 -4.5M1051.23 190.7v9M1051.23 190.7l-7.79 -4.5M1051.23 190.7l7.79 -4.5M1062.72 182.12v9M1062.72 182.12l-7.79 -4.5M1062.72 182.12l7.79 -4.5M1074.2 182.12v9M1074.2 182.12l-7.79 -4.5M1074.2 182.12l7.79 -4.5M1085.69 173.54v9M1085.69 173.54l-7.79 -4.5M1085.69 173.54l7.79 -4.5M1097.17 199.28v9M1097.17 199.28l-7.79 -4.5M1097.17 199.28l7.79 -4.5M1108.66 173.54v9M1108.66 173.54l-7.79 -4.5M1108.66 173.54l7.79 -4.5M1120.14 207.86v9M1120.14 207.86l-7.79 -4.5M1120.14 207.86l7.79 -4.5M1131.63 173.54v9M1131.63 173.54l-7.79 -4.5M1131.63 173.54l7.79 -4.5M1143.12 190.7v9M1143.12 190.7l-7.79 -4.5M1143.12 190.7l7.79 -4.5M1154.6 182.12v9M1154.6 182.12l-7.79 -4.5M1154.6 182.12l7.79 -4.5M1166.09 182.12v9M1166.09 182.12l-7.79 -4.5M1166.09 182.12l7.79 -4.5M1177.57 182.12v9M1177.57 182.12l-7.79 -4.5M1177.57 182.12l7.79 -4.5M1189.06 173.54v9M1189.06 173.54l-7.79 -4.5M1189.06 173.54l7.79 -4.5M1200.54 199.28v9M1200.54 199.28l-7.79 -4.5M1200.54 199.28l7.79 -4.5M1212.02 182.12v9M1212.02 182.12l-7.79 -4.5M1212.02 182.12l7.79 -4.5M1223.51 207.86v9M1223.51 207.86l-7.79 -4.5M1223.51 207.86l7.79 -4.5M1234.99 190.7v9M1234.99 190.7l-7.79 -4.5M1234.99 190.7l7.79 -4.5M1246.48 182.12v9M1246.48 182.12l-7.79 -4.5M1246.48 182.12l7.79 -4.5M1257.96 190.7v9M1257.96 190.7l-7.79 -4.5M1257.96 190.7l7.79 -4.5M1269.45 173.54v9M1269.45 173.54l-7.79 -4.5M1269.45 173.54l7.79 -4.5M1280.93 173.54v9M1280.93 173.54l-7.79 -4.5M1280.93 173.54l7.79 -4.5M1292.42 182.12v9M1292.42 182.12l-7.79 -4.5M1292.42 182.12l7.79 -4.5M1303.9 173.54v9M1303.9 173.54l-7.79 -4.5M1303.9 173.54l7.79 -4.5M1315.39 182.12v9M1315.39 182.12l-7.79 -4.5M1315.39 182.12l7.79 -4.5M1326.88 182.12v9M1326.88 182.12l-7.79 -4.5M1326.88 182.12l7.79 -4.5M1338.36 190.7v9M1338.36 190.7l-7.79 -4.5M1338.36 190.7l7.79 -4.5M1349.84 156.38v9M1349.84 156.38l-7.79 -4.5M1349.84 156.38l7.79 -4.5M1361.33 182.12v9M1361.33 182.12l-7.79 -4.5M1361.33 182.12l7.79 -4.5M1372.81 190.7v9M1372.81 190.7l-7.79 -4.5M1372.81 190.7l7.79 -4.5" stroke="#008000" stroke-width="2.3" fill="none" stroke-linecap="butt"/></g>
<rect x="180.5" y="24.2" width="1246.5" height="925.3" fill="none" stroke="#e2e2e2" stroke-width="1.8"/>
<rect x="175.5" y="19.2" width="1256.5" height="935.3" fill="none" stroke="#f6f6f6" stroke-width="1.6"/>
<rect x="177.9" y="21.6" width="1251.7" height="930.5" fill="none" stroke="#000" stroke-width="2.5" stroke-linejoin="miter"/>
<path d="M235.8 952.1v13.6M177.9 909.3h-13.4M465.5 952.1v13.6M177.9 740.4h-13.4M695.2 952.1v13.6M177.9 571.5h-13.4M924.9 952.1v13.6M177.9 402.4h-13.4M1154.6 952.1v13.6M177.9 233.6h-13.4M1384.3 952.1v13.6M177.9 62h-13.4" stroke="#000" stroke-width="2.5" fill="none"/>
<g filter="url(#tx)" fill="#000" stroke="#fff" stroke-width="0.35">
<text font-family="Liberation Serif, serif" font-size="41" transform="translate(89.23 75.56) scale(1 1.1100)" >100</text>
<text font-family="Liberation Serif, serif" font-size="41" transform="translate(112.05 246.86) scale(1 1.1100)" >80</text>
<text font-family="Liberation Serif, serif" font-size="41" transform="translate(110.5 415.96) scale(1 1.1100)" >60</text>
<text font-family="Liberation Serif, serif" font-size="41" transform="translate(109.93 584.96) scale(1 1.1100)" >40</text>
<text font-family="Liberation Serif, serif" font-size="41" transform="translate(109.43 753.96) scale(1 1.1100)" >20</text>
<text font-family="Liberation Serif, serif" font-size="41" transform="translate(134.1 922.81) scale(1 1.1100)" >0</text>
<text font-family="Liberation Serif, serif" font-size="41" transform="translate(225.65 1006.01) scale(1 1.1100)" >0</text>
<text font-family="Liberation Serif, serif" font-size="41" transform="translate(442.53 1006.01) scale(1 1.1100)" >20</text>
<text font-family="Liberation Serif, serif" font-size="41" transform="translate(672.83 1006.01) scale(1 1.1100)" >40</text>
<text font-family="Liberation Serif, serif" font-size="41" transform="translate(903 1006.01) scale(1 1.1100)" >60</text>
<text font-family="Liberation Serif, serif" font-size="41" transform="translate(1131.85 1006.01) scale(1 1.1100)" >80</text>
<text font-family="Liberation Serif, serif" font-size="41" transform="translate(1350.73 1006.01) scale(1 1.1100)" >100</text>
<g stroke-width="0.6">
<text font-family="Liberation Serif, serif" font-size="52.3" transform="translate(741.4 1066.5) scale(1 1.03)">epoch</text>
<text font-family="Liberation Serif, serif" font-size="52.68" transform="translate(57.3 864.12) rotate(-90) scale(1 0.9947)">Number of successful jamming/100</text>
</g>
</g>
<rect x="1167.1" y="788.2" width="247.3" height="148.7" rx="2.5" fill="#fcfcfc" stroke="#d2d2d2" stroke-width="2.2"/>
<g filter="url(#bl)" opacity="0.2"><path d="M1177.9 813.5H1244.3M1212.3 805.1v16.8" stroke="#f00" stroke-width="6.5" fill="none"/></g>
<g filter="url(#bt)"><path d="M1177.9 813.5H1244.3" stroke="#f00" stroke-width="2.9" fill="none"/><path d="M1212.3 805.9v15.2" stroke="#f00" stroke-width="2.3" fill="none"/></g>
<g filter="url(#bl)" opacity="0.2"><path d="M1177.9 858.9H1244.3M1203.9 858.9h16.8" stroke="#00f" stroke-width="6.5" fill="none"/></g>
<g filter="url(#bt)"><path d="M1177.9 858.9H1244.3" stroke="#00f" stroke-width="2.9" fill="none"/><path d="M1204.7 858.9h15.2" stroke="#00f" stroke-width="2.3" fill="none"/></g>
<g filter="url(#bl)" opacity="0.2"><path d="M1177.9 906.7H1244.3M1212.3 906.7v9.0M1212.3 906.7l-7.79 -4.5M1212.3 906.7l7.79 -4.5" stroke="#008000" stroke-width="6.5" fill="none"/></g>
<g filter="url(#bt)"><path d="M1177.9 906.7H1244.3" stroke="#008000" stroke-width="2.9" fill="none"/><path d="M1212.3 906.7v9.0M1212.3 906.7l-7.79 -4.5M1212.3 906.7l7.79 -4.5" stroke="#008000" stroke-width="2.3" fill="none"/></g>
<g filter="url(#tx)" fill="#000" stroke="#fcfcfc" stroke-width="0.0">
<text font-family="Liberation Serif, serif" font-size="31.6" transform="translate(1265.56 821.9) scale(1 1.0125)">dynamic α</text>
<text font-family="Liberation Serif, serif" font-size="31.6" transform="translate(1268.2 869.7) scale(1 1.0469)">α=0.2</text>
<text font-family="Liberation Serif, serif" font-size="31.6" transform="translate(1268.2 915.5) scale(1 1.0516)">α=0.8</text>
</g>
</svg>
</body></html>
